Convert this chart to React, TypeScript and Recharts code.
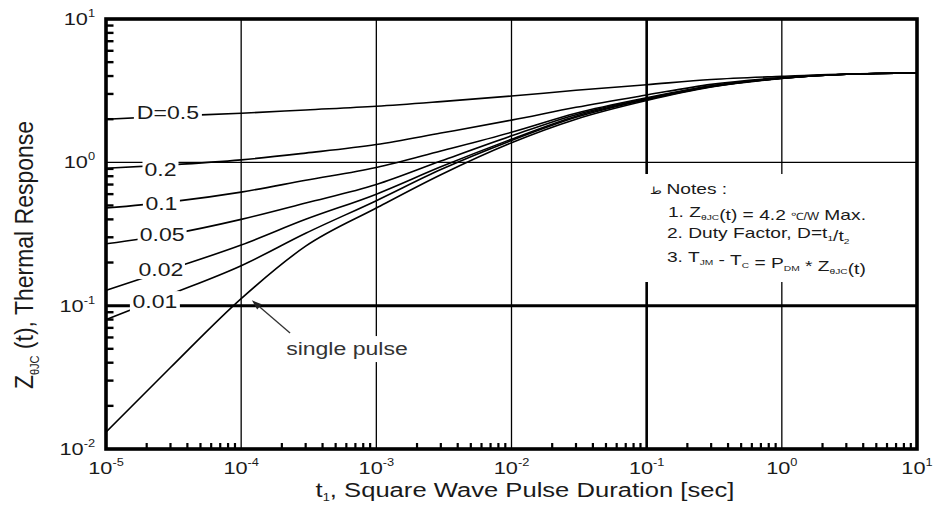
import React from 'react';
import {
  LineChart,
  Line,
  XAxis,
  YAxis,
  CartesianGrid,
  ReferenceLine,
  ReferenceDot,
  ReferenceArea,
} from 'recharts';

// pulse duration t1 [sec]
const T_SEC = [1e-5, 3e-5, 1e-4, 3e-4, 1e-3, 3e-3, 1e-2, 3e-2, 1e-1, 3e-1, 1, 3, 10];

// Z thJC(t) readings per duty factor
const Z_D050 = [2.0, 2.1, 2.2, 2.32, 2.46, 2.65, 2.9, 3.18, 3.48, 3.78, 3.98, 4.13, 4.2];
const Z_D020 = [0.91, 0.96, 1.04, 1.16, 1.33, 1.6, 1.97, 2.42, 2.95, 3.5, 3.9, 4.12, 4.2];
const Z_D010 = [0.48, 0.53, 0.62, 0.75, 0.92, 1.2, 1.62, 2.2, 2.82, 3.42, 3.88, 4.12, 4.2];
const Z_D005 = [0.27, 0.315, 0.4, 0.52, 0.7, 1.02, 1.53, 2.15, 2.78, 3.4, 3.87, 4.12, 4.2];
const Z_D002 = [0.128, 0.18, 0.265, 0.4, 0.6, 0.93, 1.45, 2.1, 2.76, 3.38, 3.86, 4.12, 4.2];
const Z_D001 = [0.08, 0.12, 0.19, 0.32, 0.54, 0.89, 1.42, 2.06, 2.74, 3.37, 3.86, 4.12, 4.2];
const Z_SINGLE = [0.0131, 0.037, 0.112, 0.26, 0.48, 0.82, 1.37, 2.0, 2.7, 3.35, 3.85, 4.12, 4.2];

const SERIES = ['d050', 'd020', 'd010', 'd005', 'd002', 'd001', 'single'];

const X_TICKS = [1e-5, 1e-4, 1e-3, 1e-2, 1e-1, 1, 10];
const Y_TICKS = [0.01, 0.1, 1, 10];

// curve tags, placed at (t, z)
const CURVE_TAGS = [
  { text: 'D=0.5', t: 2.87e-5, z: 2.21, w: 68 },
  { text: '0.2', t: 2.53e-5, z: 0.885, w: 36 },
  { text: '0.1', t: 2.57e-5, z: 0.52, w: 37 },
  { text: '0.05', t: 2.6e-5, z: 0.316, w: 49 },
  { text: '0.02', t: 2.55e-5, z: 0.18, w: 48 },
  { text: '0.01', t: 2.3e-5, z: 0.1076, w: 50 },
];

const data = T_SEC.map((t, i) => ({
  t,
  d050: Z_D050[i],
  d020: Z_D020[i],
  d010: Z_D010[i],
  d005: Z_D005[i],
  d002: Z_D002[i],
  d001: Z_D001[i],
  single: Z_SINGLE[i],
}));

const minorOf = (decades: number[]) => {
  const out: number[] = [];
  decades.forEach((d) => {
    for (let m = 2; m <= 9; m++) out.push(+(m * d).toPrecision(3));
  });
  return out;
};
const X_MINOR = minorOf([1e-5, 1e-4, 1e-3, 1e-2, 1e-1, 1]);
const Y_MINOR = minorOf([0.01, 0.1, 1]);
const Y_DOMAIN = [0.01, 10];

const FONT = '"Liberation Sans", Arial, Helvetica, sans-serif';
const SX = 1.28;
const INK = '#1a1a1a';
const MINOR_TICK = { stroke: '#000', strokeWidth: 2.2 };

const XTick = (props: any) => {
  const { x, y, payload } = props;
  const exp = Math.round(Math.log10(payload.value));
  return (
    <g transform={`translate(${x},${y + 17}) scale(${SX},1)`}>
      <text textAnchor="middle" fontFamily={FONT} fontSize={17} fill={INK}>
        10<tspan fontSize={10} dy={-8}>{exp}</tspan>
      </text>
    </g>
  );
};

const YTick = (props: any) => {
  const { x, y, payload } = props;
  const exp = Math.round(Math.log10(payload.value));
  return (
    <g transform={`translate(${x - 3},${y + 6}) scale(${SX},1)`}>
      <text textAnchor="end" fontFamily={FONT} fontSize={17} fill={INK}>
        10<tspan fontSize={10} dy={-8}>{exp}</tspan>
      </text>
    </g>
  );
};

const NoLabel = () => <g />;

// plot frame, with the inward minor ticks of the left (log) axis
const Frame = (props: any) => {
  const { x, y, width, height } = props;
  if (x == null) return null;
  const lo = Math.log10(Y_DOMAIN[0]);
  const hi = Math.log10(Y_DOMAIN[1]);
  return (
    <g>
      {Y_MINOR.map((v) => {
        const py = y + (height * (hi - Math.log10(v))) / (hi - lo);
        return <rect key={v} x={x} y={py - 1.2} width={7.5} height={2.4} fill="#000" />;
      })}
      <rect x={x} y={y} width={width} height={height} fill="none" stroke="#000" strokeWidth={3.6} />
    </g>
  );
};

const CurveTag = (props: any) => {
  const { cx, cy, text, w } = props;
  if (cx == null || cy == null) return null;
  return (
    <g>
      <rect x={cx - w / 2} y={cy - 10} width={w} height={20} fill="#fff" />
      <g transform={`translate(${cx},${cy + 6.5}) scale(${SX},1)`}>
        <text textAnchor="middle" fontFamily={FONT} fontSize={18} fill={INK}>
          {text}
        </text>
      </g>
    </g>
  );
};

const PulseTag = (props: any) => {
  const { cx, cy } = props;
  if (cx == null || cy == null) return null;
  return (
    <g>
      <rect x={cx - 64} y={cy - 13} width={128} height={26} fill="#fff" />
      <g transform={`translate(${cx},${cy + 6}) scale(${SX},1)`}>
        <text textAnchor="middle" fontFamily={FONT} fontSize={18} fill="#333">
          single pulse
        </text>
      </g>
    </g>
  );
};

const NoteLine = ({ x, y, children }: any) => (
  <g transform={`translate(${x},${y}) scale(${SX},1)`}>
    <text fontFamily={FONT} fontSize={15} fill={INK}>
      {children}
    </text>
  </g>
);

const Sub = ({ children }: any) => (
  <>
    <tspan fontSize={8} dy={3}>
      {children}
    </tspan>
    <tspan dy={-3} />
  </>
);

const NotesBox = (props: any) => {
  const { cx, cy } = props;
  if (cx == null || cy == null) return null;
  return (
    <g>
      <rect x={cx} y={cy} width={295} height={108} fill="#fff" />
      <NoteLine x={cx + 30} y={cy + 20}>
        <tspan fontSize={10}>ط</tspan>
        <tspan> Notes :</tspan>
      </NoteLine>
      <NoteLine x={cx + 48} y={cy + 43}>
        1. Z<Sub>θJC</Sub>
        <tspan>(t) = 4.2 </tspan>
        <tspan fontSize={10}>℃/W</tspan>
        <tspan> Max.</tspan>
      </NoteLine>
      <NoteLine x={cx + 47} y={cy + 64}>
        2. Duty Factor, D=t<Sub>1</Sub>
        <tspan>/t</tspan>
        <Sub>2</Sub>
      </NoteLine>
      <NoteLine x={cx + 47} y={cy + 88}>
        3. T<Sub>JM</Sub>
        <tspan> - T</tspan>
        <Sub>C</Sub>
        <tspan> = P</tspan>
        <Sub>DM</Sub>
        <tspan> * Z</tspan>
        <Sub>θJC</Sub>
        <tspan>(t)</tspan>
      </NoteLine>
    </g>
  );
};

const Arrow = (props: any) => {
  const { x1, y1, x2, y2 } = props;
  if (x1 == null) return null;
  const a = Math.atan2(y2 - y1, x2 - x1);
  const len = 10;
  const hw = 3.5;
  const bx = x2 - len * Math.cos(a);
  const by = y2 - len * Math.sin(a);
  const pts = `${x2},${y2} ${bx - hw * Math.sin(a)},${by + hw * Math.cos(a)} ${bx + hw * Math.sin(a)},${by - hw * Math.cos(a)}`;
  return (
    <g>
      <line x1={x1} y1={y1} x2={bx} y2={by} stroke="#333" strokeWidth={1.3} />
      <polygon points={pts} fill="#222" />
    </g>
  );
};

const YTitle = (props: any) => {
  const { viewBox } = props;
  const cy = viewBox.y + 236;
  return (
    <g transform={`translate(33,${cy}) scale(1.12,1) rotate(-90)`}>
      <text textAnchor="middle" fontFamily={FONT} fontSize={23} fill={INK}>
        Z<tspan fontSize={11} dy={5}>θJC</tspan>
        <tspan dy={-5}> (t), Thermal Response</tspan>
      </text>
    </g>
  );
};

const XTitle = (props: any) => {
  const { viewBox } = props;
  const cx = 525;
  const cy = viewBox.y + 48;
  return (
    <g transform={`translate(${cx},${cy}) scale(${SX},1)`}>
      <text textAnchor="middle" fontFamily={FONT} fontSize={20} fill={INK}>
        t<tspan fontSize={10} dy={4}>1</tspan>
        <tspan dy={-4}>, Square Wave Pulse Duration [sec]</tspan>
      </text>
    </g>
  );
};

const logX = { dataKey: 't', type: 'number' as const, scale: 'log' as const, domain: [1e-5, 10], allowDataOverflow: true };
const logY = { type: 'number' as const, scale: 'log' as const, domain: Y_DOMAIN, allowDataOverflow: true };

export default function App() {
  return (
    <div style={{ position: 'absolute', left: 0, top: 0, width: 935, height: 520, background: '#fff' }}>
      <LineChart width={935} height={520} data={data} margin={{ top: 19, right: 18, bottom: 0, left: 0 }}>
        <CartesianGrid stroke="#000" strokeWidth={1.3} />
        <XAxis
          {...logX}
          ticks={X_TICKS}
          interval={0}
          tick={<XTick />}
          tickLine={false}
          axisLine={false}
          height={71}
          label={{ content: <XTitle /> }}
        />
        <XAxis
          {...logX}
          xAxisId="minor"
          ticks={X_MINOR}
          interval={0}
          mirror
          tick={<NoLabel />}
          tickSize={6}
          tickLine={MINOR_TICK}
          axisLine={false}
        />
        <YAxis
          {...logY}
          ticks={Y_TICKS}
          interval={0}
          tick={<YTick />}
          tickLine={false}
          axisLine={false}
          width={106}
          label={{ content: <YTitle /> }}
        />
        <ReferenceLine y={0.1} stroke="#000" strokeWidth={3} />
        <ReferenceLine x={0.1} stroke="#000" strokeWidth={2.6} />
        {SERIES.map((k) => (
          <Line
            key={k}
            dataKey={k}
            type="monotone"
            stroke="#000"
            strokeWidth={1.6}
            dot={false}
            activeDot={false}
            isAnimationActive={false}
          />
        ))}
        {CURVE_TAGS.map((c) => (
          <ReferenceDot
            key={c.text}
            x={c.t}
            y={c.z}
            r={1}
            zIndex={2500}
            shape={(p: any) => <CurveTag {...p} text={c.text} w={c.w} />}
          />
        ))}
        <ReferenceDot x={6.06e-4} y={0.0498} r={1} zIndex={2500} shape={(p: any) => <PulseTag {...p} />} />
        <ReferenceDot x={0.0634} y={0.829} r={1} zIndex={2500} shape={(p: any) => <NotesBox {...p} />} />
        <ReferenceLine
          segment={[
            { x: 2.3e-4, y: 0.0644 },
            { x: 1.2e-4, y: 0.109 },
          ]}
          zIndex={2500}
          shape={(p: any) => <Arrow {...p} />}
        />
        <ReferenceArea
          x1={1e-5}
          x2={10}
          y1={0.01}
          y2={10}
          ifOverflow="visible"
          zIndex={2600}
          shape={(p: any) => <Frame {...p} />}
        />
      </LineChart>
    </div>
  );
}
